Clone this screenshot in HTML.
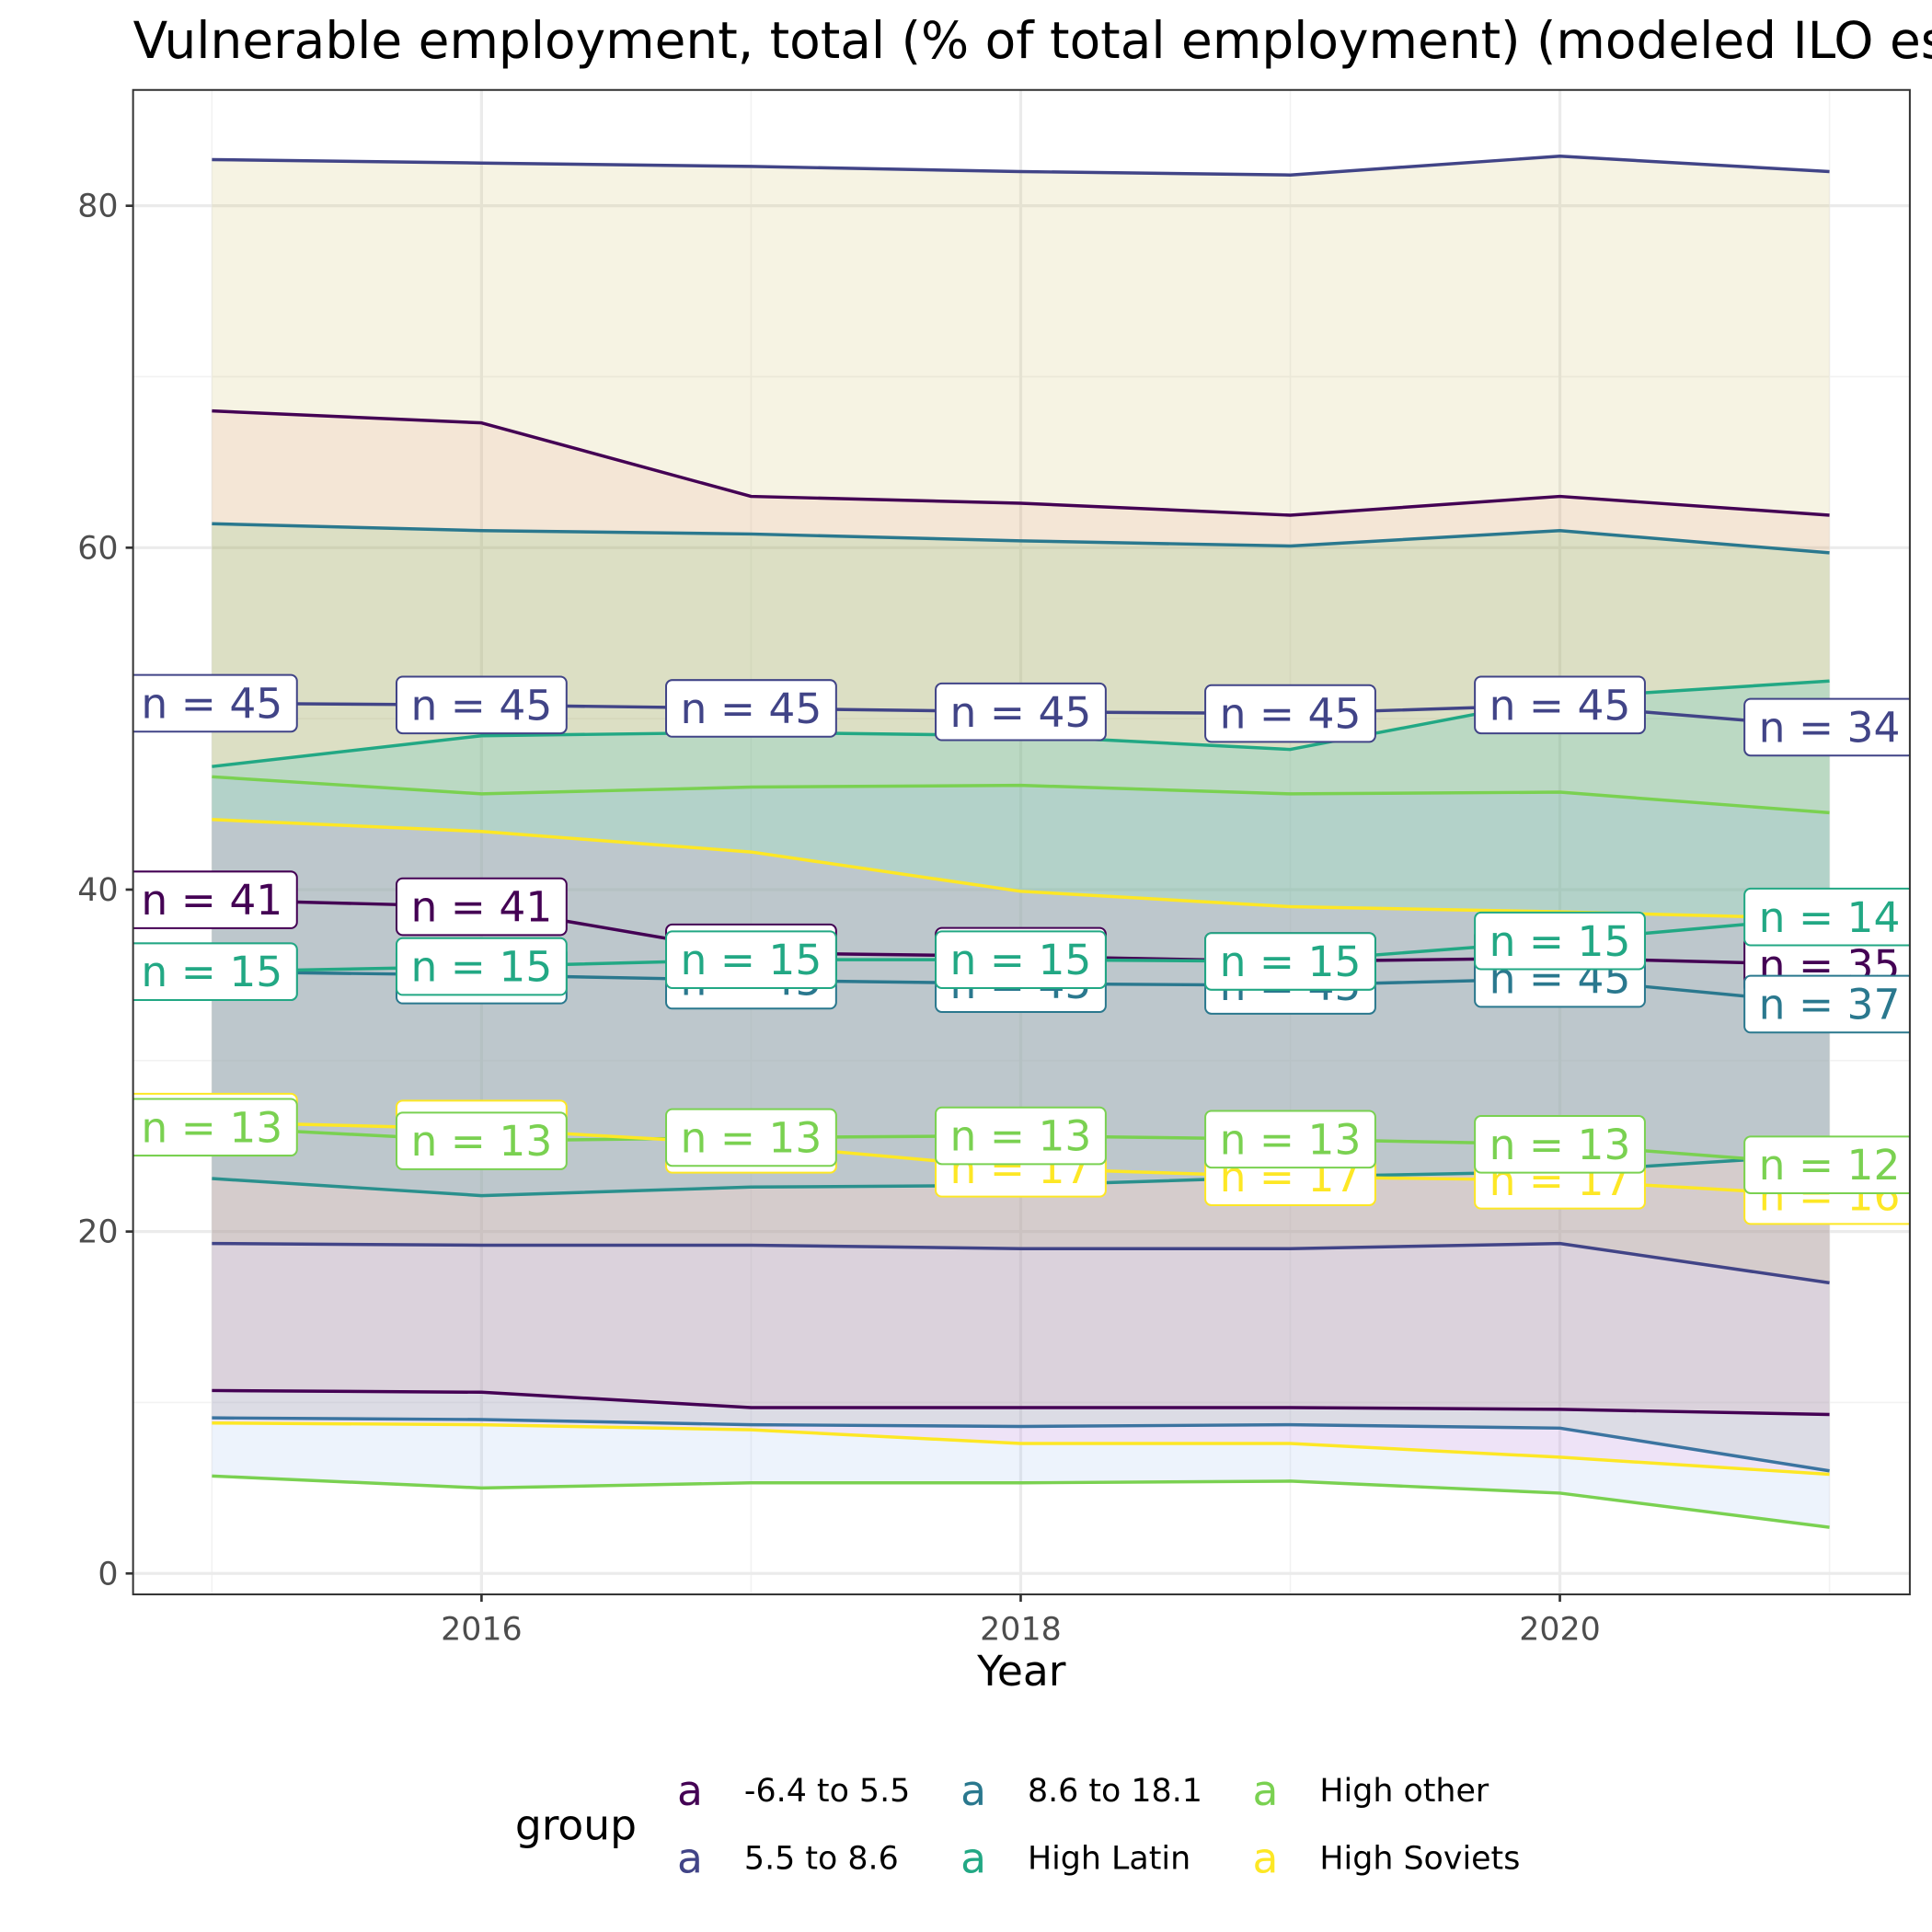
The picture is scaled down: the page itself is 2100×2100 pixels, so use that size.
<!DOCTYPE html>
<html><head><meta charset="utf-8"><style>
html,body{margin:0;padding:0;background:#fff;}
svg{display:block;font-family:"DejaVu Sans","Liberation Sans",sans-serif;}
</style></head><body>
<svg id="chart" width="2100" height="2100" viewBox="0 0 1568 1568" xmlns="http://www.w3.org/2000/svg">
<defs><clipPath id="pc"><rect x="108" y="73" width="1442" height="1221"/></clipPath></defs>
<text x="108" y="47" font-size="41" fill="#000">Vulnerable employment, total (% of total employment) (modeled ILO estimate)</text>
<g id="plot"></g>
<text x="829" y="1368" font-size="34" text-anchor="middle" fill="#000">Year</text>
<g>
<text x="418" y="1493" font-size="34" fill="#000">group</text>
<g><text x="560" y="1465" font-size="34" text-anchor="middle" fill="#440154">a</text><text x="604" y="1462" font-size="26">-6.4 to 5.5</text></g>
<g><text x="560" y="1520" font-size="34" text-anchor="middle" fill="#414487">a</text><text x="604" y="1517" font-size="26">5.5 to 8.6</text></g>
<g><text x="790" y="1465" font-size="34" text-anchor="middle" fill="#2a788e">a</text><text x="834" y="1462" font-size="26">8.6 to 18.1</text></g>
<g><text x="790" y="1520" font-size="34" text-anchor="middle" fill="#22a884">a</text><text x="834" y="1517" font-size="26">High Latin</text></g>
<g><text x="1027" y="1465" font-size="34" text-anchor="middle" fill="#7ad151">a</text><text x="1071" y="1462" font-size="26">High other</text></g>
<g><text x="1027" y="1520" font-size="34" text-anchor="middle" fill="#fde725">a</text><text x="1071" y="1517" font-size="26">High Soviets</text></g>
</g>
</svg>
<script>
const years = [2015,2016,2017,2018,2019,2020,2021];
const groups = ["-6.4 to 5.5","5.5 to 8.6","8.6 to 18.1","High Latin","High other","High Soviets"];
const maxNeg = [68.0,67.3,63.0,62.6,61.9,63.0,61.9];
const medNeg = [39.4,39.0,36.3,36.1,35.8,36.0,35.6];
const minNeg = [10.7,10.6,9.7,9.7,9.7,9.6,9.3];
const maxLow = [82.7,82.5,82.3,82.0,81.8,82.9,82.0];
const medLow = [50.9,50.8,50.6,50.4,50.3,50.8,49.5];
const minLow = [19.3,19.2,19.2,19.0,19.0,19.3,17.0];
const maxMid = [61.4,61.0,60.8,60.4,60.1,61.0,59.7];
const medMid = [35.2,35.0,34.7,34.5,34.4,34.8,33.3];
const minMid = [9.1,9.0,8.7,8.6,8.7,8.5,6.0];
const maxLatin = [47.2,49.0,49.2,49.0,48.2,51.2,52.2];
const medLatin = [35.2,35.5,35.9,35.9,35.8,37.0,38.4];
const minLatin = [23.1,22.1,22.6,22.7,23.2,23.5,24.5];
const maxOther = [46.6,45.6,46.0,46.1,45.6,45.7,44.5];
const medOther = [26.1,25.3,25.5,25.6,25.4,25.1,23.9];
const minOther = [5.7,5.0,5.3,5.3,5.4,4.7,2.7];
const maxSov = [44.1,43.4,42.2,39.9,39.0,38.7,38.3];
const medSov = [26.4,26.0,25.1,23.7,23.2,23.0,22.1];
const minSov = [8.8,8.7,8.4,7.6,7.6,6.8,5.8];
const nNeg = [41,41,37,37,37,37,35];
const nLow = [45,45,45,45,45,45,34];
const nMid = [45,45,45,45,45,45,37];
const nLatin = [15,15,15,15,15,15,14];
const nOther = [13,13,13,13,13,13,12];
const nSov = [17,17,17,17,17,17,16];
const yTicks = [0,20,40,60,80];
const xTicks = [2016,2018,2020];

const NS="http://www.w3.org/2000/svg";
const P={l:108,r:1550,t:73,b:1294};
const xS=v=>172+(v-2015)*218.8;
const yS=v=>1277-v*13.875;
const g=document.getElementById('plot');
function mk(t,a,parent){const e=document.createElementNS(NS,t);for(const k in a)e.setAttribute(k,a[k]);(parent||g).appendChild(e);return e;}

let e=mk('rect',{x:P.l,y:P.t,width:P.r-P.l,height:P.b-P.t,fill:'#fff'});


[10,30,50,70].forEach(v=>{const l=mk('line',{x1:P.l,x2:P.r,y1:yS(v),y2:yS(v),stroke:'#f2f2f2','stroke-width':1.2});});
[2015,2017,2019,2021].forEach(v=>{const l=mk('line',{x1:xS(v),x2:xS(v),y1:P.t,y2:P.b,stroke:'#f2f2f2','stroke-width':1.2});});
yTicks.forEach(v=>{const l=mk('line',{x1:P.l,x2:P.r,y1:yS(v),y2:yS(v),stroke:'#ebebeb','stroke-width':2.4});});
xTicks.forEach(v=>{const l=mk('line',{x1:xS(v),x2:xS(v),y1:P.t,y2:P.b,stroke:'#ebebeb','stroke-width':2.4});});

const series=[
 {max:maxNeg,med:medNeg,min:minNeg,n:nNeg,col:'#440154',fill:'rgb(239,156,154)'},
 {max:maxLow,med:medLow,min:minLow,n:nLow,col:'#414487',fill:'rgb(195,175,68)'},
 {max:maxMid,med:medMid,min:minMid,n:nMid,col:'#2a788e',fill:'rgb(85,190,96)'},
 {max:maxLatin,med:medLatin,min:minLatin,n:nLatin,col:'#22a884',fill:'rgb(0,191,196)'},
 {max:maxOther,med:medOther,min:minOther,n:nOther,col:'#7ad151',fill:'rgb(135,175,235)'},
 {max:maxSov,med:medSov,min:minSov,n:nSov,col:'#fde725',fill:'rgb(250,143,219)'}
];
const minCols=['#440154','#414487','#3b74a0','#2a908d','#7ad151','#fde725'];
const pts=a=>a.map((v,i)=>xS(years[i])+','+yS(v)).join(' ');
series.forEach(s=>{
 const poly=s.max.map((v,i)=>xS(years[i])+','+yS(v)).concat(s.min.map((v,i)=>xS(years[i])+','+yS(v)).reverse()).join(' ');
 const r=mk('polygon',{points:poly,fill:s.fill,'fill-opacity':0.15});
 
 
});
series.forEach((s,k)=>{
 [['max',s.col],['min',minCols[k]],['med',s.col]].forEach(([key,c])=>{
  const l=mk('polyline',{points:pts(s[key]),fill:'none',stroke:c,'stroke-width':2.6,'stroke-linejoin':'round'});
  
  
 });
});
const lab=mk('g',{'clip-path':'url(#pc)'});


[0,1,2,5,4,3].forEach(k=>{
 const s=series[k];
 s.med.forEach((v,i)=>{
  const cx=xS(years[i]),cy=yS(v);
  const lg=mk('g',{},lab);
  
  
  mk('rect',{x:cx-69,y:cy-23,width:138,height:46,rx:5,fill:'#fff',stroke:s.col,'stroke-width':1.5},lg);
  const t=mk('text',{x:cx,y:cy+12,'font-size':34,'text-anchor':'middle',fill:s.col},lg);
  t.textContent='n = '+s.n[i];
 });
});
e=mk('rect',{x:P.l,y:P.t,width:P.r-P.l,height:P.b-P.t,fill:'none',stroke:'#333','stroke-width':1.5});


yTicks.forEach(v=>{
 mk('line',{x1:P.l-6,x2:P.l,y1:yS(v),y2:yS(v),stroke:'#333','stroke-width':2});
 const t=mk('text',{x:P.l-12,y:yS(v)+9,'font-size':26,'text-anchor':'end',fill:'#4d4d4d'});
 
 
 t.textContent=v;
});
xTicks.forEach(v=>{
 mk('line',{x1:xS(v),x2:xS(v),y1:P.b,y2:P.b+6,stroke:'#333','stroke-width':2});
 const t=mk('text',{x:xS(v),y:P.b+37,'font-size':26,'text-anchor':'middle',fill:'#4d4d4d'});
 
 
 t.textContent=v;
});
</script>
</body></html>
